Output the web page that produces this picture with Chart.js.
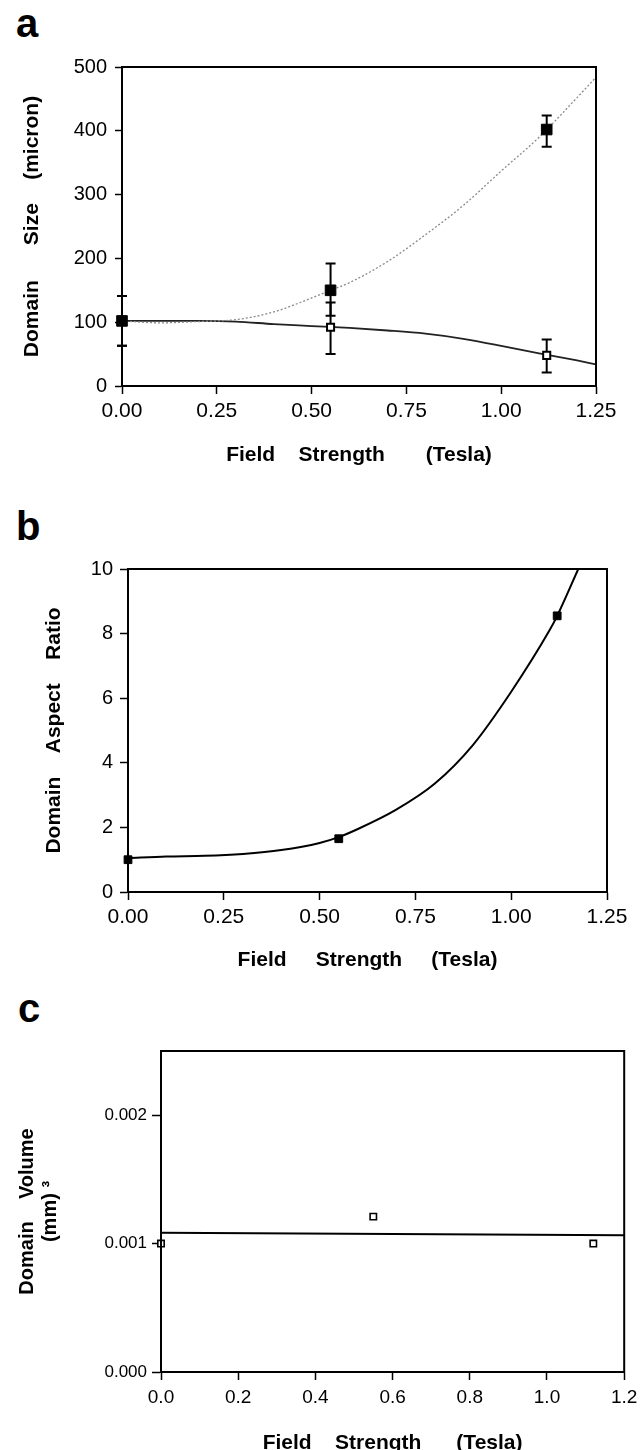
<!DOCTYPE html>
<html>
<head>
<meta charset="utf-8">
<script src="https://cdn.jsdelivr.net/npm/chart.js@4.4.1/dist/chart.umd.min.js"></script>
<style>
html, body { margin: 0; padding: 0; background: #fff; overflow: hidden; width: 644px; height: 1450px; }
#wrap { position: relative; width: 644px; height: 1450px; }
canvas { position: absolute; left: 0; }
.lbl { position: absolute; font: bold 40px "Liberation Sans", Arial, sans-serif; line-height: 40px; color: #000; }
</style>
</head>
<body>
<div id="wrap">
  <div class="lbl" style="left:16px;top:3px">a</div>
  <div class="lbl" style="left:16px;top:506px">b</div>
  <div class="lbl" style="left:18px;top:988px">c</div>
  <canvas id="chartA" width="644" height="500" style="top:0px"></canvas>
  <canvas id="chartB" width="644" height="520" style="top:470px"></canvas>
  <canvas id="chartC" width="644" height="520" style="top:960px"></canvas>
</div>
<script>
// ---- panel a : domain size ----
var fieldA = [0, 0.55, 1.12];
var sizeFilled = [102, 150, 402];
var filledHi = [141, 192, 424];
var filledLo = [63, 110, 375];
var sizeOpen = [102, 92, 48];
var openHi = [141, 131, 73];
var openLo = [63, 50, 21];
var upperFitX = [0, 0.1, 0.2, 0.3, 0.4, 0.5, 0.55, 0.6, 0.7, 0.8, 0.9, 1.0, 1.1, 1.2, 1.25];
var upperFitY = [102, 99, 101, 104, 116, 138, 150, 162, 195, 237, 283, 337, 390, 452, 484];
var lowerFitX = [0, 0.1, 0.2, 0.3, 0.4, 0.5, 0.6, 0.7, 0.8, 0.9, 1.0, 1.1, 1.2, 1.25];
var lowerFitY = [102, 102, 102, 101, 97, 94, 91, 87, 82, 74, 63, 51, 40, 34];
var xTicksA = [0, 0.25, 0.5, 0.75, 1.0, 1.25];
var yTicksA = [0, 100, 200, 300, 400, 500];

// ---- panel b : aspect ratio ----
var fieldB = [0, 0.55, 1.12];
var aspect = [1.0, 1.65, 8.55];
var fitBX = [0, 0.1, 0.2, 0.3, 0.4, 0.5, 0.55, 0.6, 0.7, 0.8, 0.9, 1.0, 1.1, 1.12, 1.175];
var fitBY = [1.05, 1.1, 1.12, 1.18, 1.3, 1.52, 1.7, 1.95, 2.55, 3.35, 4.55, 6.2, 8.1, 8.55, 10.0];
var xTicksB = [0, 0.25, 0.5, 0.75, 1.0, 1.25];
var yTicksB = [0, 2, 4, 6, 8, 10];

// ---- panel c : domain volume ----
var fieldC = [0, 0.55, 1.12];
var volume = [0.001, 0.00121, 0.001];
var fitCX = [0, 1.2];
var fitCY = [0.001085, 0.001065];
var xTicksC = [0, 0.2, 0.4, 0.6, 0.8, 1.0, 1.2];
var yTicksC = [0, 0.001, 0.002];

var FONT = '"Liberation Sans", Arial, Helvetica, sans-serif';
Chart.defaults.font.family = FONT;
Chart.defaults.color = '#000';

function pts(xs, ys) {
    return xs.map(function(x, i) { return {x: x, y: ys[i]}; });
}

function useTicks(list) {
    return function(scale) {
        scale.ticks = list.map(function(v) { return {value: v}; });
    };
}

//draws the box round the plot area
var frame = {
    id: 'frame',
    afterDraw: function(chart) {
        var a = chart.chartArea, ctx = chart.ctx;
        ctx.save();
        ctx.strokeStyle = '#000';
        ctx.lineWidth = 2;
        ctx.strokeRect(a.left, a.top, a.right - a.left, a.bottom - a.top);
        ctx.restore();
    }
};

//vertical error bars with caps, from hi/lo arrays
var errorBars = {
    id: 'errorBars',
    beforeDatasetsDraw: function(chart, args, opts) {
        if (!opts || !opts.sets) return;
        var ctx = chart.ctx, xs = chart.scales.x, ys = chart.scales.y;
        ctx.save();
        ctx.strokeStyle = '#000';
        ctx.lineWidth = 2;
        opts.sets.forEach(function(s) {
            for (var i = 0; i < s.x.length; i++) {
                var px = xs.getPixelForValue(s.x[i]);
                var top = ys.getPixelForValue(s.hi[i]);
                var bot = ys.getPixelForValue(s.lo[i]);
                ctx.beginPath();
                ctx.moveTo(px, top); ctx.lineTo(px, bot);
                ctx.moveTo(px - 5, top); ctx.lineTo(px + 5, top);
                ctx.moveTo(px - 5, bot); ctx.lineTo(px + 5, bot);
                ctx.stroke();
            }
        });
        ctx.restore();
    }
};

function axis(o) {
    return {
        type: 'linear',
        min: o.min,
        max: o.max,
        afterBuildTicks: useTicks(o.ticks),
        afterFit: o.fit,
        ticks: {
            callback: o.fmt,
            color: '#000',
            font: {family: FONT, size: o.tickSize},
            padding: o.pad,
            maxRotation: 0,
            autoSkip: false
        },
        grid: {drawOnChartArea: false, drawTicks: true, tickLength: o.tl, tickColor: '#000', tickWidth: 1.5},
        border: {display: true, color: '#000', width: 2},
        title: {
            display: true,
            text: o.title,
            color: '#000',
            font: {family: FONT, size: o.titleSize || 21, weight: 'bold', lineHeight: o.titleLH || 1.2},
            padding: o.titlePad
        }
    };
}

var baseOpts = {
    responsive: false,
    animation: false,
    plugins: {legend: {display: false}, tooltip: {enabled: false}}
};

// ---------- chart a ----------
var chartA = new Chart(document.getElementById('chartA'), {
    type: 'scatter',
    data: {
        datasets: [{
            label: 'filled',
            data: pts(fieldA, sizeFilled),
            pointStyle: 'rect', pointRadius: 7.5, clip: false,
            backgroundColor: '#000', borderColor: '#000', borderWidth: 1
        }, {
            label: 'open',
            data: pts(fieldA, sizeOpen),
            pointStyle: 'rect', pointRadius: 5, clip: false,
            backgroundColor: '#fff', borderColor: '#000', borderWidth: 2
        }, {
            label: 'upper fit',
            data: pts(upperFitX, upperFitY),
            showLine: true, pointRadius: 0,
            borderColor: '#8a8a8a', borderWidth: 1.3, borderDash: [2, 2],
            cubicInterpolationMode: 'monotone'
        }, {
            label: 'lower fit',
            data: pts(lowerFitX, lowerFitY),
            showLine: true, pointRadius: 0,
            borderColor: '#222', borderWidth: 1.8,
            cubicInterpolationMode: 'monotone'
        }]
    },
    options: Object.assign({}, baseOpts, {
        layout: {padding: {left: 0, top: 67, right: 48, bottom: 32.4}},
        plugins: Object.assign({}, baseOpts.plugins, {
            errorBars: {sets: [
                {x: fieldA, hi: filledHi, lo: filledLo},
                {x: fieldA, hi: openHi, lo: openLo}
            ]}
        }),
        scales: {
            x: axis({min: 0, max: 1.25, ticks: xTicksA, tickSize: 21, pad: 5, tl: 8,
                fmt: function(v) { return Number(v).toFixed(2); },
                fit: function(s) { s.height = 81.6; },
                title: 'Field    Strength       (Tesla)', titlePad: {top: 0, bottom: 0}}),
            y: axis({min: 0, max: 500, ticks: yTicksA, tickSize: 20, pad: 8, tl: 7,
                fmt: function(v) { return String(v); },
                fit: function(s) { s.width = 122; },
                title: 'Domain      Size    (micron)', titlePad: {top: 20, bottom: 0}})
        }
    }),
    plugins: [errorBars, frame]
});

// ---------- chart b ----------
var chartB = new Chart(document.getElementById('chartB'), {
    type: 'scatter',
    data: {
        datasets: [{
            label: 'aspect',
            data: pts(fieldB, aspect),
            pointStyle: 'rect', pointRadius: 5.5, clip: false,
            backgroundColor: '#000', borderColor: '#000', borderWidth: 1
        }, {
            label: 'fit',
            data: pts(fitBX, fitBY),
            showLine: true, pointRadius: 0,
            borderColor: '#000', borderWidth: 2,
            cubicInterpolationMode: 'monotone'
        }]
    },
    options: Object.assign({}, baseOpts, {
        layout: {padding: {left: 0, top: 99, right: 37, bottom: 17.4}},
        scales: {
            x: axis({min: 0, max: 1.25, ticks: xTicksB, tickSize: 21, pad: 5, tl: 8,
                fmt: function(v) { return Number(v).toFixed(2); },
                fit: function(s) { s.height = 80.6; },
                title: 'Field     Strength     (Tesla)', titlePad: {top: 0, bottom: 0}}),
            y: axis({min: 0, max: 10, ticks: yTicksB, tickSize: 20, pad: 7, tl: 8,
                fmt: function(v) { return String(v); },
                fit: function(s) { s.width = 128; },
                title: 'Domain    Aspect    Ratio', titlePad: {top: 42, bottom: 0}})
        }
    }),
    plugins: [frame]
});

// ---------- chart c ----------
var chartC = new Chart(document.getElementById('chartC'), {
    type: 'scatter',
    data: {
        datasets: [{
            label: 'volume',
            data: pts(fieldC, volume),
            pointStyle: 'rect', pointRadius: 4.5, clip: false,
            backgroundColor: '#fff', borderColor: '#000', borderWidth: 1.6
        }, {
            label: 'fit',
            data: pts(fitCX, fitCY),
            showLine: true, pointRadius: 0,
            borderColor: '#000', borderWidth: 2
        }]
    },
    options: Object.assign({}, baseOpts, {
        layout: {padding: {left: 0, top: 91, right: 17, bottom: 24.4}},
        scales: {
            x: axis({min: 0, max: 1.2, ticks: xTicksC, tickSize: 19, pad: 6.6, tl: 8,
                fmt: function(v) { return Number(v).toFixed(1); },
                fit: function(s) { s.height = 83.6; },
                title: 'Field    Strength      (Tesla)', titlePad: {top: 0, bottom: 0}}),
            y: axis({min: 0, max: 0.0025, ticks: yTicksC, tickSize: 17, pad: 5, tl: 9,
                fmt: function(v) { return Number(v).toFixed(3); },
                fit: function(s) { s.width = 161; },
                title: ['Domain    Volume', '(mm) \u00b3'], titleSize: 20, titleLH: 1.15,
                titlePad: {top: 15.5, bottom: 0}})
        }
    }),
    plugins: [frame]
});
</script>
</body>
</html>
